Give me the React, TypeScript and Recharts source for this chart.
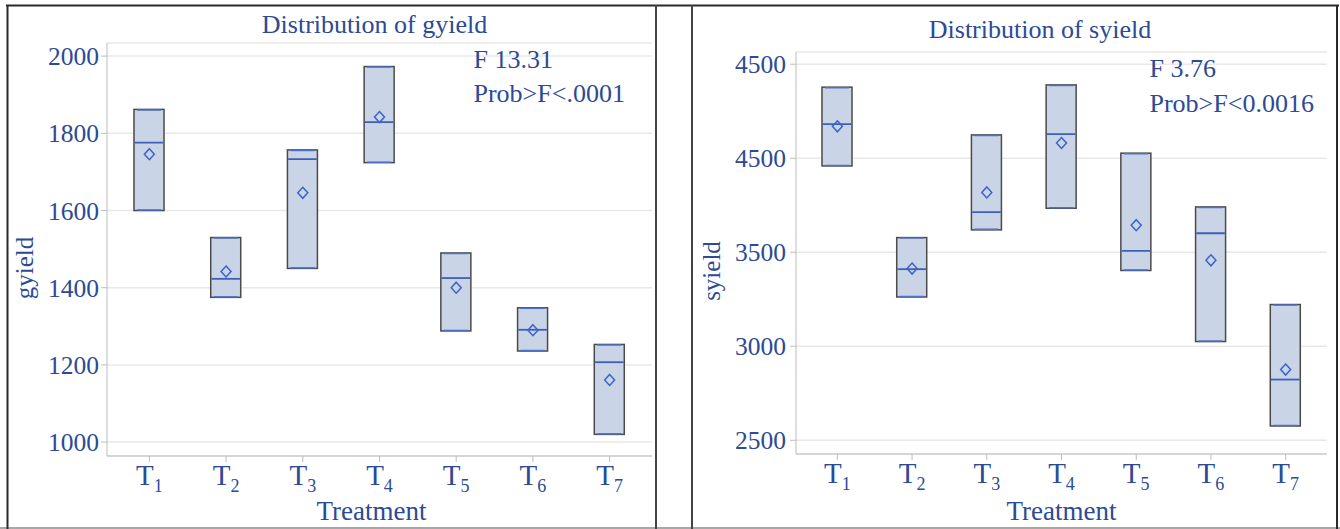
import React from 'react';
import { ComposedChart, Bar, Scatter, XAxis, YAxis, CartesianGrid } from 'recharts';

// ---- data ----
const treatments = ['T1', 'T2', 'T3', 'T4', 'T5', 'T6', 'T7'];

const gyieldLow = [1600, 1375, 1450, 1724, 1288, 1236, 1020];
const gyieldHigh = [1862, 1530, 1757, 1973, 1490, 1348, 1253];
const gyieldMedian = [1776, 1423, 1733, 1829, 1425, 1291, 1207];
const gyieldMean = [1746, 1442, 1646, 1842, 1400, 1290, 1161];
const gyieldTicks = [1000, 1200, 1400, 1600, 1800, 2000];
const gyieldTickLabels = ['1000', '1200', '1400', '1600', '1800', '2000'];
const gyieldDomain = [964, 2034];

const syieldLow = [3959, 3262, 3619, 3734, 3403, 3025, 2576];
const syieldHigh = [4378, 3578, 4124, 4390, 4027, 3741, 3222];
const syieldMedian = [4181, 3410, 3713, 4128, 3507, 3601, 2823];
const syieldMean = [4170, 3413, 3818, 4081, 3644, 3457, 2876];
const syieldTicks = [2500, 3000, 3500, 4000, 4500];
const syieldTickLabels = ['2500', '3000', '3500', '4500', '4500'];
const syieldDomain = [2427, 4565];

// ---- styles ----
const BLUE = '#2c4a96';
const FONT = '"Liberation Serif", "Times New Roman", serif';
const FRAME = '#bdbdbd';
const GRID = '#e8e8e8';

const buildRows = (low: number[], high: number[], med: number[], mean: number[]) =>
  treatments.map((name, i) => ({
    name,
    range: [low[i], high[i]],
    low: low[i],
    high: high[i],
    median: med[i],
    mean: mean[i],
  }));

const BoxShape = (props: any) => {
  const { x, y, width, height, payload } = props;
  if (x == null || y == null) return null;
  const top = Math.min(y, y + height);
  const h = Math.abs(height);
  const medY = top + ((payload.high - payload.median) / (payload.high - payload.low)) * h;
  return (
    <g>
      <rect x={x} y={top} width={width} height={h} fill="#c9d5e6" stroke="#4a4a4a" strokeWidth={1.5} />
      <line x1={x + 3} x2={x + width - 3} y1={top + 0.5} y2={top + 0.5} stroke="#4f70c8" strokeWidth={1.5} />
      <line x1={x + 3} x2={x + width - 3} y1={top + h - 0.5} y2={top + h - 0.5} stroke="#4f70c8" strokeWidth={1.5} />
      <line x1={x + 0.75} x2={x + width - 0.75} y1={medY} y2={medY} stroke="#3d5fb8" strokeWidth={1.8} />
    </g>
  );
};

const Diamond = (props: any) => {
  const { cx, cy } = props;
  if (cx == null || cy == null) return null;
  return (
    <path
      d={`M${cx},${cy - 5.5} L${cx + 5},${cy} L${cx},${cy + 5.5} L${cx - 5},${cy} Z`}
      fill="none"
      stroke="#3d63c6"
      strokeWidth={1.5}
    />
  );
};

const XTick = (props: any) => {
  const { x, y, payload } = props;
  const label: string = payload.value;
  return (
    <text x={x} y={y + 21} textAnchor="middle" fill={BLUE} fontFamily={FONT} fontSize={29}>
      {label.slice(0, 1)}
      <tspan fontSize={18} dy={6.5}>{label.slice(1)}</tspan>
    </text>
  );
};

type PanelProps = {
  rows: any[];
  domain: number[];
  ticks: number[];
  tickLabels: string[];
  left: number;
  margin: { top: number; right: number; bottom: number; left: number };
  tickMargin: number;
};

const Panel = ({ rows, domain, ticks, tickLabels, left, margin, tickMargin }: PanelProps) => (
  <div style={{ position: 'absolute', left, top: 0 }}>
    <ComposedChart width={660} height={529} data={rows} margin={margin}>
      <CartesianGrid vertical={false} stroke={GRID} strokeWidth={1.5} />
      <XAxis
        dataKey="name"
        interval={0}
        height={50}
        tickSize={6}
        padding={{ left: 4, right: 4 }}
        axisLine={{ stroke: FRAME }}
        tickLine={{ stroke: FRAME }}
        tick={<XTick />}
      />
      <XAxis xAxisId="top" orientation="top" height={0} tick={false} tickLine={false} axisLine={{ stroke: FRAME }} />
      <YAxis
        type="number"
        domain={domain}
        ticks={ticks}
        allowDataOverflow
        width={60}
        tickSize={6}
        tickMargin={tickMargin}
        axisLine={{ stroke: FRAME }}
        tickLine={{ stroke: FRAME }}
        tickFormatter={(v: number) => tickLabels[ticks.indexOf(v)] ?? String(v)}
        tick={{ fill: BLUE, fontSize: 25.5, fontFamily: FONT }}
      />
      <YAxis yAxisId="r" orientation="right" width={0} tick={false} tickLine={false} axisLine={{ stroke: FRAME }} />
      <Bar dataKey="range" barSize={30} shape={<BoxShape />} isAnimationActive={false} />
      <Scatter dataKey="mean" shape={<Diamond />} isAnimationActive={false} />
    </ComposedChart>
  </div>
);

const gRows = buildRows(gyieldLow, gyieldHigh, gyieldMedian, gyieldMean);
const sRows = buildRows(syieldLow, syieldHigh, syieldMedian, syieldMean);

export default function App() {
  return (
    <div style={{ position: 'absolute', left: 0, top: 0, width: 1340, height: 529, background: '#fff', overflow: 'hidden' }}>
      <Panel
        rows={gRows}
        domain={gyieldDomain}
        ticks={gyieldTicks}
        tickLabels={gyieldTickLabels}
        left={0}
        margin={{ top: 43, right: 8, bottom: 23, left: 47 }}
        tickMargin={2}
      />
      <Panel
        rows={sRows}
        domain={syieldDomain}
        ticks={syieldTicks}
        tickLabels={syieldTickLabels}
        left={680}
        margin={{ top: 52, right: 13, bottom: 25, left: 56 }}
        tickMargin={4}
      />
      <svg width={1340} height={529} style={{ position: 'absolute', left: 0, top: 0, pointerEvents: 'none' }}>
        {/* panel borders */}
        <line x1={6} x2={1339} y1={5.5} y2={5.5} stroke="#2a2a2a" strokeWidth={2} />
        <line x1={0} x2={1340} y1={528} y2={528} stroke="#8a8a8a" strokeWidth={1.5} />
        <line x1={7.5} x2={7.5} y1={5} y2={529} stroke="#2a2a2a" strokeWidth={2} />
        <line x1={656} x2={656} y1={5} y2={529} stroke="#444" strokeWidth={2} />
        <line x1={692} x2={692} y1={5} y2={529} stroke="#444" strokeWidth={2} />
        <line x1={1337} x2={1337} y1={5} y2={529} stroke="#2a2a2a" strokeWidth={2} />

        <g fill={BLUE} fontFamily={FONT}>
          {/* left panel texts */}
          <text x={374.5} y={33} textAnchor="middle" fontSize={26}>Distribution of gyield</text>
          <text x={473.5} y={68} fontSize={26}>F 13.31</text>
          <text x={473.5} y={102} fontSize={26}>Prob&gt;F&lt;.0001</text>
          <text x={371.5} y={519.5} textAnchor="middle" fontSize={27}>Treatment</text>
          <text transform="translate(33,268) rotate(-90)" textAnchor="middle" fontSize={25}>gyield</text>

          {/* right panel texts */}
          <text x={1040} y={38} textAnchor="middle" fontSize={26}>Distribution of syield</text>
          <text x={1149.5} y={77} fontSize={26}>F 3.76</text>
          <text x={1149.5} y={112} fontSize={26}>Prob&gt;F&lt;0.0016</text>
          <text x={1061.5} y={519.5} textAnchor="middle" fontSize={27}>Treatment</text>
          <text transform="translate(720,271) rotate(-90)" textAnchor="middle" fontSize={25}>syield</text>
        </g>
      </svg>
    </div>
  );
}
